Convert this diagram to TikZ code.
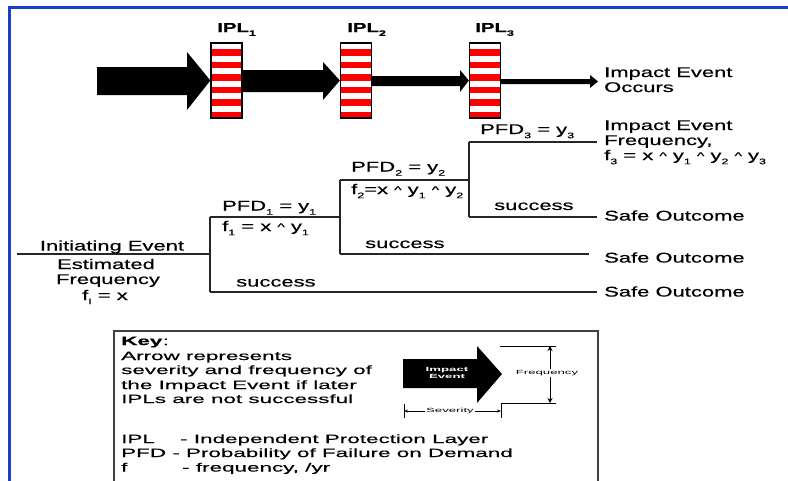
\documentclass[tikz,border=0pt]{standalone}
\usepackage{fontspec}
\setmainfont{Liberation Sans}
\newfontfamily\mainf[FakeStretch=1.57,FakeBold=0.5]{Liberation Sans}
\newfontfamily\keyf[FakeStretch=1.87,FakeBold=0.4]{Liberation Sans}
\newfontfamily\tinyf[FakeStretch=2.2]{Liberation Sans}
\usetikzlibrary{arrows.meta}
\definecolor{frameblue}{RGB}{25,65,200}
\newcommand\sbs[1]{\raisebox{-0.3em}{\fontsize{8}{8}\selectfont #1}}
\newcommand\crt{\raisebox{0.05em}{\fontsize{10}{10}\selectfont\textasciicircum}}
\tikzset{
  lbl/.style={inner sep=0pt, anchor=base west, font=\mainf\fontsize{14}{14}\selectfont},
  clbl/.style={lbl, anchor=base},
  keytxt/.style={inner sep=0pt, anchor=base west, font=\keyf\fontsize{12}{12}\selectfont},
  ipllbl/.style={inner sep=0pt, anchor=base west, font=\mainf\bfseries\fontsize{13}{13}\selectfont},
  treeline/.style={line width=1.4pt, black!85},
  iplbox/.style={draw=black, line width=1.2pt, fill=white, minimum width=31pt, minimum height=75pt, inner sep=0pt,
    path picture={\foreach \i in {1,3,...,11} \fill[red] ([yshift=-\i*6.25pt]path picture bounding box.north west) rectangle ++(31pt,-6.25pt);}},
  dimtxt/.style={inner sep=1pt, fill=white, font=\tinyf\fontsize{6}{6}\selectfont},
  dimline/.style={line width=0.9pt, black},
}
\begin{document}
\begin{tikzpicture}[x=1pt,y=-1pt]
\useasboundingbox (0,0) rectangle (788,480);
% frame
\draw[frameblue, line width=3pt] (9,482) -- (9,7) -- (790,7);
% IPL boxes
\node[iplbox] (ipl1) at (226.5,80.5) {};
\node[iplbox] (ipl2) at (356,80.5) {};
\node[iplbox] (ipl3) at (485,80.5) {};
\node[ipllbl] (l1) at (217,32) {IPL\sbs{1}};
\node[ipllbl] (l2) at (347,32) {IPL\sbs{2}};
\node[ipllbl] (l3) at (475,32) {IPL\sbs{3}};
% big arrows
\fill (97,67) -- (187,67) -- (187,52) -- (ipl1.west) -- (187,110) -- (187,95) -- (97,95) -- cycle;
\fill (ipl1.east |- 0,70) -- (323,70) -- (323,62) -- (ipl2.west) -- (323,100) -- (323,92) -- (ipl1.east |- 0,92) -- cycle;
\fill (ipl2.east |- 0,76) -- (460,76) -- (460,70) -- (ipl3.west) -- (460,92) -- (460,86) -- (ipl2.east |- 0,86) -- cycle;
\node[lbl] (occ1) at (604,77) {Impact Event};
\node[lbl] (occ2) at (604,92) {Occurs};
\fill (ipl3.east |- 0,79) -- (590,79) -- (590,75) -- (598,81.5) -- (590,88) -- (590,84) -- (ipl3.east |- 0,84) -- cycle;
% tree
\coordinate (ie) at (17,254);
\coordinate (j1) at (210,254);
\coordinate (j1t) at (210,217);
\coordinate (j1b) at (210,292);
\coordinate (j2) at (340,217);
\coordinate (j2t) at (340,180);
\coordinate (j2b) at (340,254);
\coordinate (j3) at (469,180);
\coordinate (j3t) at (469,142);
\coordinate (j3b) at (469,217);
\coordinate (e3t) at (597,142);
\coordinate (e3b) at (597,217);
\coordinate (e2b) at (589,254);
\coordinate (e1b) at (597,292);
\draw[treeline] (ie) -- (j1);
\draw[treeline] (j1t) -- (j1b);
\draw[treeline] (j1t) -- (j2);
\draw[treeline] (j1b) -- (e1b);
\draw[treeline] (j2t) -- (j2b);
\draw[treeline] (j2t) -- (j3);
\draw[treeline] (j2b) -- (e2b);
\draw[treeline] (j3t) -- (j3b);
\draw[treeline] (j3t) -- (e3t);
\draw[treeline] (j3b) -- (e3b);
% tree labels
\node[clbl] (ie1) at (112,250.5) {Initiating Event};
\node[clbl] (ie2) at (106,269) {Estimated};
\node[clbl] (ie3) at (108,284) {Frequency};
\node[clbl] (ie4) at (105,300) {f\sbs{I} = x};
\node[lbl] (p1) at (222,210.5) {PFD\sbs{1} = y\sbs{1}};
\node[lbl] (f1) at (222,231) {f\sbs{1} = x \crt{} y\sbs{1}};
\node[lbl] (s1) at (236,286.5) {success};
\node[lbl] (p2) at (351,171.5) {PFD\sbs{2} = y\sbs{2}};
\node[lbl] (f2) at (351,194) {f\sbs{2}=x \crt{} y\sbs{1} \crt{} y\sbs{2}};
\node[lbl] (s2) at (365,248) {success};
\node[lbl] (p3) at (480,134) {PFD\sbs{3} = y\sbs{3}};
\node[lbl] (s3) at (494,210) {success};
\node[lbl] (o1) at (604,130) {Impact Event};
\node[lbl] (o2) at (604,145) {Frequency,};
\node[lbl] (o3) at (604,160) {f\sbs{3} = x \crt{} y\sbs{1} \crt{} y\sbs{2} \crt{} y\sbs{3}};
\node[lbl] (so1) at (604,220.5) {Safe Outcome};
\node[lbl] (so2) at (604,262.5) {Safe Outcome};
\node[lbl] (so3) at (604,296.5) {Safe Outcome};
% key
\draw[line width=1.5pt, black!75] (114,482) -- (114,331) -- (598,331) -- (598,482);
\node[keytxt, font=\keyf\bfseries\fontsize{12}{12}\selectfont] (k0) at (121,345) {Key};
\node[keytxt, anchor=base west] (k0b) at (k0.base east) {:};
\node[keytxt] (k1) at (121,360) {Arrow represents};
\node[keytxt] (k2) at (121,374) {severity and frequency of};
\node[keytxt] (k3) at (121,389) {the Impact Event if later};
\node[keytxt] (k4) at (121,403) {IPLs are not successful};
\node[keytxt] (k5a) at (121,443) {IPL};
\node[keytxt] (k5b) at (180,443) {- Independent Protection Layer};
\node[keytxt] (k6) at (121,457) {PFD - Probability of Failure on Demand};
\node[keytxt] (k7a) at (121,471.5) {f};
\node[keytxt] (k7b) at (182,471.5) {- frequency, /yr};
% key arrow
\fill (403,359) -- (477,359) -- (477,346) -- (502,374) -- (477,403) -- (477,388) -- (403,388) -- cycle;
\node[align=center, text=white, inner sep=0pt, font=\tinyf\bfseries\fontsize{6}{7}\selectfont] (ka) at (447,373) {Impact\\Event};
\coordinate (ft1) at (500,346);
\coordinate (ft2) at (556,346);
\coordinate (fb1) at (501,403);
\coordinate (fb2) at (556,403);
\coordinate (sb) at (501,418);
\coordinate (sl1) at (404,404);
\coordinate (sl2) at (404,418);
\draw[dimline] (ft1) -- (ft2);
\draw[dimline] (fb1) -- (fb2);
\draw[dimline] (fb1) -- (sb);
\draw[dimline] (sl1) -- (sl2);
\coordinate (fa1) at (550,346);
\coordinate (fa2) at (550,403);
\draw[dimline, {Stealth[length=5pt,width=5pt]}-{Stealth[length=5pt,width=5pt]}] (fa1) -- (fa2);
\node[dimtxt] (fq) at (547,373) {Frequency};
\coordinate (sa1) at (404,411);
\coordinate (sa2) at (501,411);
\draw[dimline, {Stealth[length=4pt,width=3pt]}-{Stealth[length=4pt,width=3pt]}] (sa1) -- (sa2);
\node[dimtxt] (sv) at (450,411) {Severity};
\end{tikzpicture}
\end{document}
